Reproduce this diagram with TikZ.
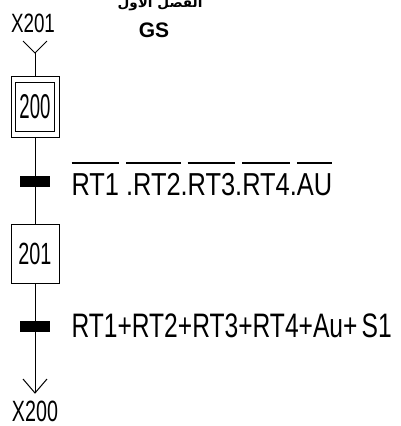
\documentclass[tikz,border=0pt]{standalone}
\usepackage{graphicx}
\usepackage{fontspec}
\setmainfont{Liberation Sans}
\newfontfamily\arabicfont[Script=Arabic]{DejaVu Sans}
\TeXXeTstate=1
\newcommand{\ovl}[1]{{\setbox0\hbox{#1}\rlap{\raisebox{0.98em}{\rule{\wd0}{0.055em}}}\box0}}
\begin{document}
\begin{tikzpicture}[x=1pt,y=-1pt,line width=1pt,
  stepbox/.style={draw,inner sep=0pt,minimum width=48pt,minimum height=59pt},
  innerbox/.style={draw,inner sep=0pt,minimum width=39pt,minimum height=49pt},
  trbar/.style={fill=black,draw=none,inner sep=0pt,minimum width=30pt,minimum height=11pt},
  lbl/.style={inner sep=0pt,anchor=base west},
  clbl/.style={inner sep=0pt,anchor=base}]
\useasboundingbox (0,0) rectangle (401,426);
\clip (0,0) rectangle (401,426);
% title
\node[clbl] (ar) at (160,7) {\resizebox{85pt}{!}{\arabicfont\bfseries\beginR الفصل الأول\endR}};
\node[clbl] (gs) at (154,37) {\fontsize{21}{21}\selectfont\bfseries GS};
% initial link label
\node[clbl] (x201) at (33,32) {\scalebox{1}[1.41]{\fontsize{18.8}{18.8}\selectfont X201}};
% steps
\node[stepbox,minimum height=61pt] (s200) at (35,106.5) {\scalebox{1}[1.85]{\fontsize{18.6}{18.6}\selectfont 200}};
\node[innerbox] (s200i) at (35,106.5) {};
\node[stepbox] (s201) at (35,253.5) {\scalebox{1}[1.55]{\fontsize{19.8}{19.8}\selectfont 201}};
% links
\coordinate (ytop) at (35,53);
\coordinate (yl) at (23,41);
\coordinate (yr) at (47,41);
\draw (yl) -- (ytop) -- (yr);
\draw (ytop) -- (s200.north);
\draw (s200.south) -- (s201.north);
\coordinate (atip) at (35,393);
\coordinate (al) at (23,379);
\coordinate (arr) at (47,379);
\draw (s201.south) -- (atip);
\draw (al) -- (atip) -- (arr);
% transitions
\node[trbar] (t1) at (35,181) {};
\node[trbar] (t2) at (35,326) {};
\node[lbl] (c1) at (71,195) {\scalebox{1}[1.25]{\fontsize{25.4}{25.4}\selectfont \ovl{RT1}\ \ovl{.RT2}.\ovl{RT3}.\ovl{RT4}.\ovl{AU}}};
\node[lbl] (c2) at (71,337) {\scalebox{1}[1.38]{\fontsize{24.6}{24.6}\selectfont RT1+RT2+RT3+RT4+Au+\,S1}};
% final link label
\node[clbl] (x200) at (35,421) {\scalebox{1}[1.49]{\fontsize{19.7}{19.7}\selectfont X200}};
\end{tikzpicture}
\end{document}
